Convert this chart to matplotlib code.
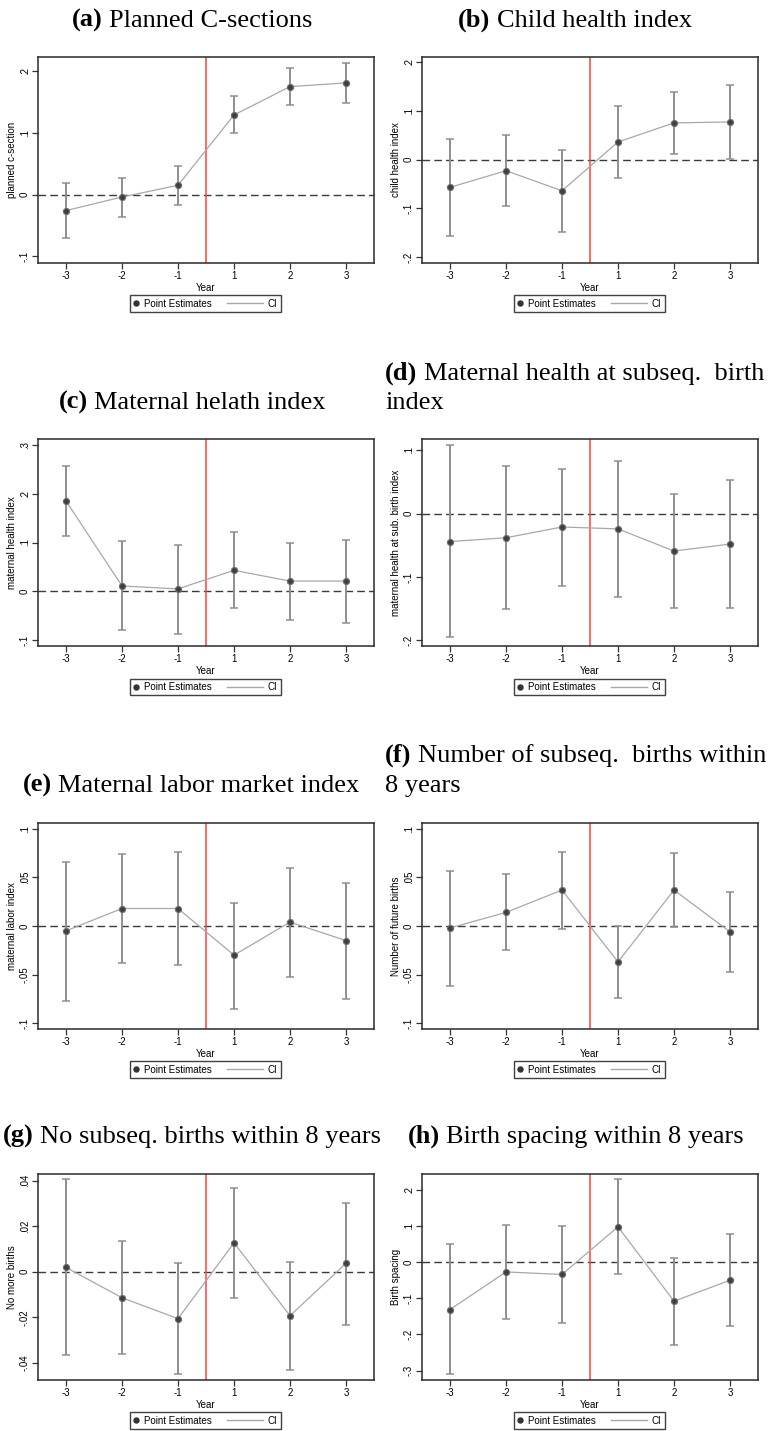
"""Event-study panels (a)-(h): point estimates with CIs around a reform year."""

import numpy as np

import matplotlib
matplotlib.use("Agg")
import matplotlib.pyplot as plt
from matplotlib.lines import Line2D
from matplotlib.legend_handler import HandlerLine2D
from matplotlib.ticker import FuncFormatter

years = [-3, -2, -1, 1, 2, 3]

# (a) planned c-section
csec_est = [-0.026, -0.004, 0.015, 0.129, 0.175, 0.181]
csec_lo = [-0.071, -0.036, -0.017, 0.099, 0.145, 0.149]
csec_hi = [0.019, 0.027, 0.046, 0.159, 0.205, 0.213]

# (b) child health index
child_est = [-0.057, -0.023, -0.064, 0.036, 0.075, 0.077]
child_lo = [-0.157, -0.096, -0.149, -0.038, 0.012, 0.001]
child_hi = [0.043, 0.050, 0.020, 0.110, 0.139, 0.153]

# (c) maternal health index
mhealth_est = [0.185, 0.011, 0.005, 0.043, 0.021, 0.021]
mhealth_lo = [0.114, -0.080, -0.087, -0.034, -0.059, -0.065]
mhealth_hi = [0.256, 0.103, 0.094, 0.121, 0.100, 0.106]

# (d) maternal health at subsequent birth index
msub_est = [-0.044, -0.038, -0.021, -0.024, -0.059, -0.048]
msub_lo = [-0.195, -0.151, -0.114, -0.131, -0.149, -0.149]
msub_hi = [0.108, 0.075, 0.071, 0.084, 0.031, 0.054]

# (e) maternal labor index
labor_est = [-0.005, 0.018, 0.018, -0.030, 0.004, -0.015]
labor_lo = [-0.077, -0.038, -0.040, -0.085, -0.052, -0.075]
labor_hi = [0.066, 0.074, 0.076, 0.024, 0.060, 0.044]

# (f) number of future births
nbirth_est = [-0.002, 0.014, 0.037, -0.037, 0.037, -0.006]
nbirth_lo = [-0.062, -0.025, -0.003, -0.074, -0.001, -0.047]
nbirth_hi = [0.057, 0.054, 0.076, 0.000, 0.075, 0.035]

# (g) no more births
nomore_est = [0.0019, -0.0114, -0.0206, 0.0127, -0.0193, 0.0037]
nomore_lo = [-0.0367, -0.0361, -0.0449, -0.0116, -0.0430, -0.0233]
nomore_hi = [0.0405, 0.0135, 0.0039, 0.0369, 0.0045, 0.0303]

# (h) birth spacing
spacing_est = [-0.131, -0.027, -0.034, 0.098, -0.108, -0.050]
spacing_lo = [-0.309, -0.158, -0.168, -0.034, -0.228, -0.177]
spacing_hi = [0.050, 0.104, 0.099, 0.230, 0.012, 0.077]

W, H = 770, 1431
SERIF = "Liberation Serif"
SANS = "Liberation Sans"

fig = plt.figure(figsize=(W / 100, H / 100), dpi=100)
renderer = fig.canvas.get_renderer()


def px_axes(left, top, right, bottom):
    return fig.add_axes([left / W, 1 - bottom / H, (right - left) / W, (bottom - top) / H])


def stata_fmt(v, _pos):
    s = f"{v:g}"
    if s in ("0", "-0"):
        return "0"
    return s.replace("0.", ".")


class ShortKey(HandlerLine2D):
    def legend_artist(self, legend, orig_handle, fontsize, handlebox):
        handlebox.width = 0.6 * fontsize
        return super().legend_artist(legend, orig_handle, fontsize, handlebox)


def draw_title(label, text, x, y, align="center", line2=None, y2=None):
    kw = dict(fontsize=19, family=SERIF, va="baseline", ha="left", color="black")
    bold = fig.text(0, 1 - y / H, label, weight="bold", **kw)
    rest = fig.text(0, 1 - y / H, text, **kw)
    wb = bold.get_window_extent(renderer).width
    wr = rest.get_window_extent(renderer).width
    gap = 6.5
    x0 = x - (wb + gap + wr) / 2 if align == "center" else x
    bold.set_x(x0 / W)
    rest.set_x((x0 + wb + gap) / W)
    if line2 is not None:
        fig.text(x0 / W, 1 - y2 / H, line2, **kw)


def event_panel(ax, est, lo, hi, ylabel, yticks, ylim):
    x = np.arange(1, len(years) + 1)
    est = np.asarray(est)
    yerr = [est - np.asarray(lo), np.asarray(hi) - est]
    ax.errorbar(x, est, yerr=yerr, fmt="none", ecolor="#8f8f8f",
                elinewidth=1.4, capsize=2.6, capthick=1.1, zorder=2)
    ax.plot(x, est, color="#a8a8a8", linewidth=0.9, zorder=3)
    ax.plot(x, est, linestyle="none", marker="o", markersize=4.4,
            markerfacecolor="#404040", markeredgecolor="#6e6e6e",
            markeredgewidth=0.8, zorder=4)
    ax.axhline(0, color="#3a3a3a", linewidth=1.0, linestyle=(0, (5.5, 3)), zorder=1)
    ax.axvline(3.5, color="#ff4040", linewidth=1.1, zorder=1)

    ax.set_xlim(0.5, len(years) + 0.5)
    ax.set_ylim(*ylim)
    ax.set_xticks(x)
    ax.set_xticklabels([str(y) for y in years])
    ax.set_yticks(yticks)
    ax.yaxis.set_major_formatter(FuncFormatter(stata_fmt))
    ax.tick_params(axis="both", labelsize=7, length=4, width=0.9,
                   color="#333333", pad=2)
    ax.tick_params(axis="y", labelrotation=90)
    for lab in ax.get_xticklabels() + ax.get_yticklabels():
        lab.set_family(SANS)
    for lab in ax.get_yticklabels():
        lab.set_verticalalignment("center")
    for sp in ax.spines.values():
        sp.set_color("#2a2a2a")
        sp.set_linewidth(1.1)

    ax.set_xlabel("Year", fontsize=7, family=SANS, labelpad=1)
    ax.set_ylabel(ylabel, fontsize=7, family=SANS)
    ax.yaxis.set_label_coords(-0.062, 0.5)

    handles = [
        Line2D([], [], linestyle="none", marker="o", markersize=3.6,
               markerfacecolor="#333333", markeredgecolor="#333333"),
        Line2D([], [], color="#a8a8a8", linewidth=1.0),
    ]
    leg = ax.legend(handles, ["Point Estimates", "CI"], loc="upper center",
                    bbox_to_anchor=(0.498, -0.134), ncol=2, frameon=True,
                    fancybox=False, prop={"family": SANS, "size": 7},
                    handlelength=3.7, handletextpad=0.5, columnspacing=1.6,
                    borderpad=0.35, handler_map={handles[0]: ShortKey()})
    leg.get_frame().set_edgecolor("#111111")
    leg.get_frame().set_linewidth(1.0)


rows = [(57, 263), (439, 646), (823, 1029), (1174, 1380)]
cols = [(38, 374), (422, 758)]

panels = [
    (csec_est, csec_lo, csec_hi, "planned c-section",
     [-0.1, 0, 0.1, 0.2], (-0.111, 0.223)),
    (child_est, child_lo, child_hi, "child health index",
     [-0.2, -0.1, 0, 0.1, 0.2], (-0.212, 0.210)),
    (mhealth_est, mhealth_lo, mhealth_hi, "maternal health index",
     [-0.1, 0, 0.1, 0.2, 0.3], (-0.112, 0.312)),
    (msub_est, msub_lo, msub_hi, "maternal health at sub. birth index",
     [-0.2, -0.1, 0, 0.1], (-0.209, 0.118)),
    (labor_est, labor_lo, labor_hi, "maternal labor index",
     [-0.1, -0.05, 0, 0.05, 0.1], (-0.106, 0.106)),
    (nbirth_est, nbirth_lo, nbirth_hi, "Number of future births",
     [-0.1, -0.05, 0, 0.05, 0.1], (-0.106, 0.106)),
    (nomore_est, nomore_lo, nomore_hi, "No more births",
     [-0.04, -0.02, 0, 0.02, 0.04], (-0.0475, 0.0429)),
    (spacing_est, spacing_lo, spacing_hi, "Birth spacing",
     [-0.3, -0.2, -0.1, 0, 0.1, 0.2], (-0.326, 0.244)),
]

for i, (est, lo, hi, ylabel, yticks, ylim) in enumerate(panels):
    top, bottom = rows[i // 2]
    left, right = cols[i % 2]
    ax = px_axes(left, top, right, bottom)
    event_panel(ax, est, lo, hi, ylabel, yticks, ylim)

draw_title("(a)", "Planned C-sections", 192, 27)
draw_title("(b)", "Child health index", 575, 27)
draw_title("(c)", "Maternal helath index", 192, 409)
draw_title("(d)", "Maternal health at subseq.  birth", 385, 380, align="left",
           line2="index", y2=409)
draw_title("(e)", "Maternal labor market index", 191, 792)
draw_title("(f)", "Number of subseq.  births within", 385, 762, align="left",
           line2="8 years", y2=792)
draw_title("(g)", "No subseq. births within 8 years", 192, 1143)
draw_title("(h)", "Birth spacing within 8 years", 576, 1143)

fig.savefig("out.png", dpi=100, facecolor="white")
